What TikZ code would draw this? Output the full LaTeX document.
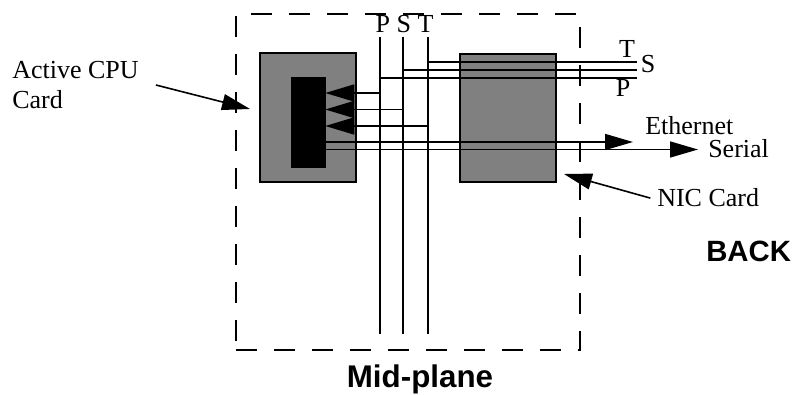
\documentclass[tikz,border=0pt]{standalone}
\usepackage{fontspec}
\setmainfont{Liberation Serif}
\newfontfamily\hv{Liberation Sans}
\usetikzlibrary{arrows.meta}
\definecolor{cardgray}{RGB}{128,128,128}
\begin{document}
\begin{tikzpicture}[x=0.75pt,y=-0.75pt,
  wire/.style={line width=1.2pt},
  card/.style={draw, line width=1.2pt, fill=cardgray, inner sep=0pt, minimum width=72pt},
  lbl/.style={font=\fontsize{19.5}{23}\selectfont, inner sep=0pt},
  big/.style={font=\hv\bfseries\fontsize{22}{26}\selectfont, inner sep=0pt},
  tipA/.style={-{Triangle[length=21.75pt,width=12.75pt]}},
  tipB/.style={-{Triangle[length=21pt,width=12pt]}},
]
\useasboundingbox (0,0) rectangle (794,395);
% mid-plane frame
\node[draw, line width=1.5pt, dash pattern=on 16pt off 12.5pt, inner sep=0pt,
      minimum width=258pt, minimum height=252pt] (frame) at (408,182) {};
% cards
\node[card, minimum height=96.75pt] (cpu) at (308,117.5) {};
\node[draw, fill=black, inner sep=0pt, minimum width=25.5pt, minimum height=67.5pt] (chip) at (308,122) {};
\node[card, minimum height=96pt] (nic) at (508,118) {};
% bus lines
\coordinate (Ptop) at (380,37); \coordinate (Pbot) at (380,334);
\coordinate (Stop) at (403,37); \coordinate (Sbot) at (403,334);
\coordinate (Ttop) at (428,37); \coordinate (Tbot) at (428,334);
\draw[wire] (Ptop) -- (Pbot);
\draw[wire] (Stop) -- (Sbot);
\draw[wire] (Ttop) -- (Tbot);
\node[lbl, anchor=base] (pst) at (404.5,33) {P S T};
% bus to back
\coordinate (Tend) at (637,62);
\coordinate (Send) at (637,70);
\coordinate (Pend) at (637,78);
\draw[wire] (Ttop |- Tend) -- (Tend);
\draw[wire] (Stop |- Send) -- (Send);
\draw[wire] (Ptop |- Pend) -- (Pend);
\node[lbl, anchor=base] (tlbl) at (627,58) {T};
\node[lbl, anchor=base] (slbl) at (648,73) {S};
\node[lbl, anchor=base] (plbl) at (623,97) {P};
% bus to chip
\coordinate (Pin) at (380,93);
\coordinate (Sin) at (403,109.5);
\coordinate (Tin) at (428,126);
\draw[wire, tipA] (Pin) -- (chip.east |- Pin);
\draw[wire, tipA] (Sin) -- (chip.east |- Sin);
\draw[wire, tipA] (Tin) -- (chip.east |- Tin);
% ethernet and serial
\coordinate (ethend) at (633,142);
\coordinate (serend) at (698,149.5);
\draw[wire, tipB] (chip.east |- ethend) -- (ethend);
\draw[wire, tipB] (chip.east |- serend) -- (serend);
\node[lbl, anchor=base west] (eth) at (645,135) {Ethernet};
\node[lbl, anchor=base west] (ser) at (708,158) {Serial};
% labels with pointers
\node[lbl, anchor=base west] (acpu) at (12,79) {Active CPU};
\node[lbl, anchor=base west] (acpu2) at (12,109) {Card};
\coordinate (cpuptr) at (250,109);
\draw[wire, tipB] ([xshift=12.75pt,yshift=-4.5pt]acpu.base east) -- (cpuptr);
\node[lbl, anchor=base west] (niclbl) at (657,207) {NIC Card};
\coordinate (nicptr) at (564,174);
\draw[wire, tipB] ([xshift=-5pt]niclbl.west) -- (nicptr);
% titles
\node[big, anchor=base west] (back) at (706,262) {BACK};
\node[big, font=\hv\bfseries\fontsize{23.5}{28}\selectfont, anchor=base] (mid) at (420,388) {Mid-plane};
\end{tikzpicture}
\end{document}
